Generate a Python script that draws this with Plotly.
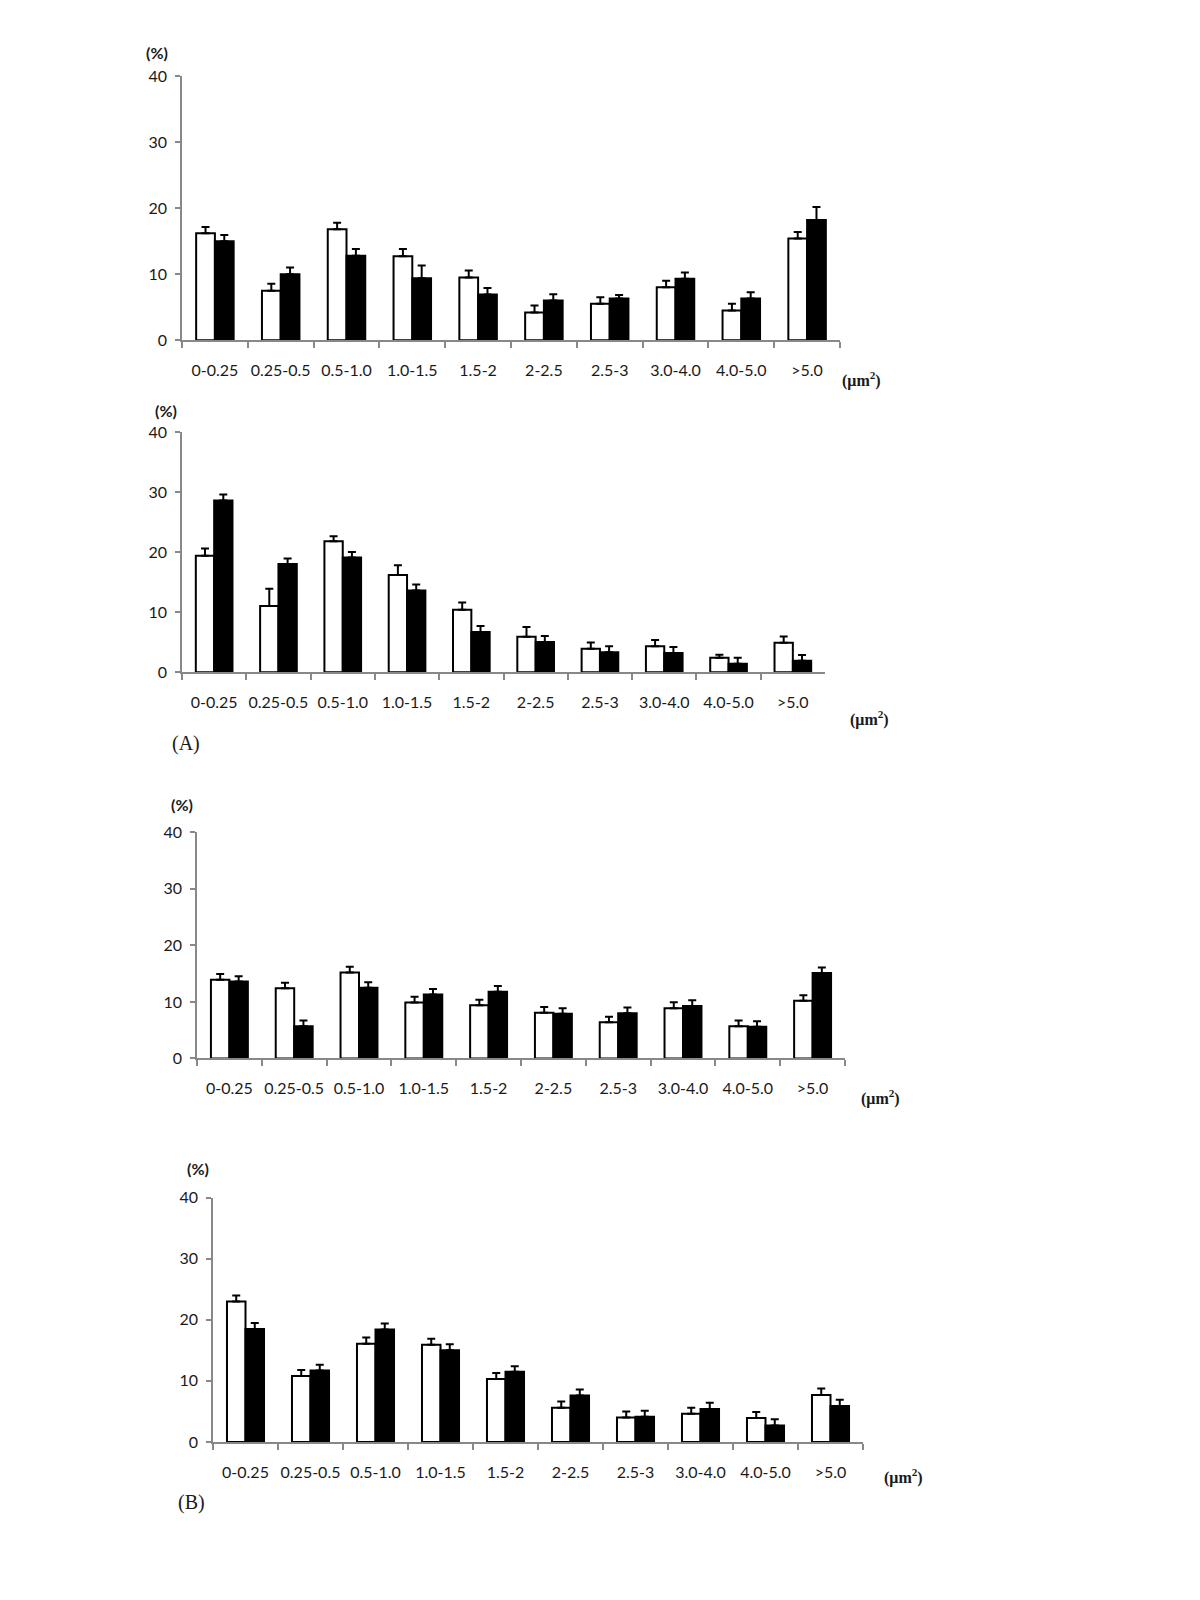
import plotly.graph_objects as go

categories = ["0-0.25", "0.25-0.5", "0.5-1.0", "1.0-1.5", "1.5-2",
              "2-2.5", "2.5-3", "3.0-4.0", "4.0-5.0", ">5.0"]
y_ticks = [0, 10, 20, 30, 40]

# panel 1 (A, top)
a1_white = [16.2, 7.5, 16.8, 12.7, 9.5, 4.2, 5.5, 8.0, 4.5, 15.4]
a1_white_err = [0.95, 1.05, 1.0, 1.1, 1.05, 1.05, 1.0, 1.0, 1.0, 1.0]
a1_black = [15.0, 10.0, 12.8, 9.4, 6.9, 6.0, 6.3, 9.3, 6.3, 18.2]
a1_black_err = [0.95, 1.0, 1.0, 1.9, 1.0, 0.95, 0.55, 0.95, 0.95, 2.0]

# panel 2 (A, bottom)
a2_white = [19.4, 11.0, 21.8, 16.2, 10.4, 5.9, 3.9, 4.3, 2.4, 4.9]
a2_white_err = [1.2, 2.9, 0.85, 1.6, 1.2, 1.6, 1.05, 1.05, 0.5, 1.05]
a2_black = [28.6, 18.0, 19.1, 13.6, 6.7, 5.0, 3.3, 3.2, 1.4, 1.9]
a2_black_err = [1.0, 0.95, 0.9, 1.0, 1.0, 1.0, 1.0, 1.0, 1.0, 0.95]

# panel 3 (B, top)
b1_white = [13.9, 12.4, 15.2, 9.9, 9.4, 8.1, 6.4, 8.9, 5.7, 10.2]
b1_white_err = [1.05, 1.0, 1.0, 1.0, 1.0, 1.0, 1.0, 1.05, 1.0, 1.0]
b1_black = [13.6, 5.7, 12.5, 11.3, 11.8, 7.9, 8.0, 9.3, 5.6, 15.1]
b1_black_err = [0.95, 1.0, 1.0, 1.0, 1.0, 1.0, 1.0, 1.0, 1.0, 1.0]

# panel 4 (B, bottom)
b2_white = [23.0, 10.8, 16.1, 15.9, 10.3, 5.6, 4.0, 4.6, 3.9, 7.7]
b2_white_err = [1.0, 1.0, 1.0, 1.0, 1.0, 1.0, 1.0, 1.0, 1.0, 1.05]
b2_black = [18.5, 11.7, 18.4, 15.0, 11.5, 7.6, 4.1, 5.4, 2.7, 5.9]
b2_black_err = [1.0, 0.95, 1.0, 1.0, 0.9, 1.0, 1.0, 1.0, 1.0, 1.0]

W, H = 1200, 1600

# pixel boxes of each plot area: (x0, x1, y_of_0, y_of_40)
panels = [
    (a1_white, a1_white_err, a1_black, a1_black_err, (174, 832, 326, 59)),
    (a2_white, a2_white_err, a2_black, a2_black_err, (174, 817, 662, 419)),
    (b1_white, b1_white_err, b1_black, b1_black_err, (189, 837, 1053, 824)),
    (b2_white, b2_white_err, b2_black, b2_black_err, (205, 855, 1441, 1194)),
]

# annotation pixel spots (centres)
pct_pos = [(149, 35), (158, 397), (174, 796), (190, 1164)]
unit_pos = [(853, 366), (861, 709), (872, 1092), (895, 1476)]
letter_pos = [("(A)", 178, 734), ("(B)", 183, 1502)]

AXIS_GREY = "#888888"
TICK_FONT = dict(family="Lato, Open Sans, sans-serif", size=16, color="#1a1a1a")


def px(x, y):
    return x / W, 1 - y / H


fig = go.Figure()
layout = {}

for i, (w, we, b, be, box) in enumerate(panels, start=1):
    x0, x1, y0, y40 = box
    xa = "x" if i == 1 else f"x{i}"
    ya = "y" if i == 1 else f"y{i}"
    zeros = [0] * len(categories)
    fig.add_trace(go.Bar(
        x=categories, y=w, xaxis=xa, yaxis=ya, showlegend=False,
        marker=dict(color="white", line=dict(color="black", width=2)),
        error_y=dict(type="data", array=we, arrayminus=zeros, symmetric=False,
                     color="black", thickness=2, width=4),
    ))
    fig.add_trace(go.Bar(
        x=categories, y=b, xaxis=xa, yaxis=ya, showlegend=False,
        marker=dict(color="black", line=dict(color="black", width=2)),
        error_y=dict(type="data", array=be, arrayminus=zeros, symmetric=False,
                     color="black", thickness=2, width=4),
    ))
    layout["xaxis" if i == 1 else f"xaxis{i}"] = dict(
        domain=[x0 / W, x1 / W], anchor=ya, type="category",
        range=[-0.5, len(categories) - 0.5],
        showline=True, linecolor=AXIS_GREY, linewidth=1.5,
        ticks="outside", tickson="boundaries", ticklen=6, tickcolor=AXIS_GREY,
        tickwidth=1.5, showgrid=False, zeroline=False, tickfont=TICK_FONT,
        tickangle=0, ticklabelstandoff=15, fixedrange=True,
    )
    layout["yaxis" if i == 1 else f"yaxis{i}"] = dict(
        domain=[1 - y0 / H, 1 - y40 / H], anchor=xa, range=[0, 40],
        tickvals=y_ticks, showline=True, linecolor=AXIS_GREY, linewidth=1.5,
        ticks="outside", ticklen=5, tickcolor=AXIS_GREY, tickwidth=1.5,
        showgrid=False, zeroline=False, tickfont=TICK_FONT, fixedrange=True,
        ticklabelstandoff=5,
    )

annotations = []
for (ax, ay) in pct_pos:
    x, y = px(ax, ay)
    annotations.append(dict(
        x=x, y=y, xref="paper", yref="paper", xanchor="center", yanchor="middle",
        text="<b>(%)</b>", showarrow=False,
        font=dict(family="Lato, Open Sans, sans-serif", size=16, color="#1a1a1a"),
    ))
for (ax, ay) in unit_pos:
    x, y = px(ax, ay)
    annotations.append(dict(
        x=x, y=y, xref="paper", yref="paper", xanchor="center", yanchor="middle",
        text="<b>(μm<sup>2</sup>)</b>", showarrow=False,
        font=dict(family="Liberation Serif, Times New Roman, serif", size=16, color="#1a1a1a"),
    ))
for (label, ax, ay) in letter_pos:
    x, y = px(ax, ay)
    annotations.append(dict(
        x=x, y=y, xref="paper", yref="paper", xanchor="center", yanchor="middle",
        text=label, showarrow=False,
        font=dict(family="Liberation Serif, Times New Roman, serif", size=20, color="#1a1a1a"),
    ))

fig.update_layout(
    **layout,
    annotations=annotations,
    width=W, height=H,
    margin=dict(l=0, r=0, t=0, b=0),
    paper_bgcolor="white", plot_bgcolor="white",
    barmode="group", bargap=0.43, bargroupgap=0,
)

fig.write_html("out.html")
